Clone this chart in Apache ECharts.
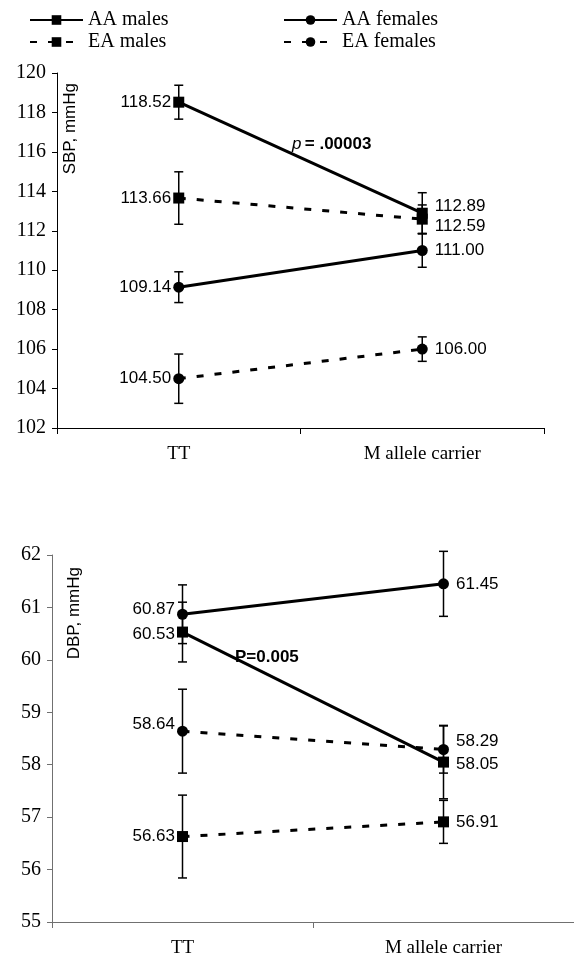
<!DOCTYPE html>
<html>
<head>
<meta charset="utf-8">
<script src="https://cdn.jsdelivr.net/npm/echarts@6/dist/echarts.min.js"></script>
<style>
html,body{margin:0;padding:0;background:#fff;}
#chart{width:574px;height:962px;}
</style>
</head>
<body>
<div id="chart"></div>
<script>
// ---- data ----
var categories = ['TT', 'M allele carrier'];
var seriesNames = ['AA males', 'AA females', 'EA males', 'EA females'];

// SBP (top panel)
var sbpAAMales = [118.52, 112.89];
var sbpAAMalesErr = [0.86, 1.04];
var sbpAAFemales = [109.14, 111.00];
var sbpAAFemalesErr = [0.78, 0.85];
var sbpEAMales = [113.66, 112.59];
var sbpEAMalesErr = [1.33, 0.72];
var sbpEAFemales = [104.50, 106.00];
var sbpEAFemalesErr = [1.25, 0.62];
var sbpTicks = {min: 102, max: 120, interval: 2};

// DBP (bottom panel)
var dbpAAMales = [60.53, 58.05];
var dbpAAMalesErr = [0.57, 0.70];
var dbpAAFemales = [60.87, 61.45];
var dbpAAFemalesErr = [0.56, 0.62];
var dbpEAMales = [56.63, 56.91];
var dbpEAMalesErr = [0.79, 0.41];
var dbpEAFemales = [58.64, 58.29];
var dbpEAFemalesErr = [0.80, 0.45];
var dbpTicks = {min: 55, max: 62, interval: 1};

var sbpPText = '.00003';
var dbpPText = 'P=0.005';

// ---- styling helpers ----
var SERIF = '"Liberation Serif","Times New Roman",serif';
var SANS = '"Liberation Sans",Arial,sans-serif';

function errData(vals, errs) {
  return vals.map(function (v, i) { return [i, v - errs[i], v + errs[i]]; });
}

function errSeries(xi, data) {
  return {
    type: 'custom', xAxisIndex: xi, yAxisIndex: xi, z: 1, silent: true,
    data: data,
    renderItem: function (params, api) {
      var x = api.value(0);
      var lo = api.coord([x, api.value(1)]);
      var hi = api.coord([x, api.value(2)]);
      var hw = 4.5;
      var st = {stroke: '#000', lineWidth: 1.5};
      return {
        type: 'group',
        children: [
          {type: 'line', shape: {x1: lo[0], y1: lo[1], x2: hi[0], y2: hi[1]}, style: st},
          {type: 'line', shape: {x1: lo[0] - hw, y1: lo[1], x2: lo[0] + hw, y2: lo[1]}, style: st},
          {type: 'line', shape: {x1: hi[0] - hw, y1: hi[1], x2: hi[0] + hw, y2: hi[1]}, style: st}
        ]
      };
    }
  };
}

function lineSeries(name, xi, vals, dashed, symbol, offsets) {
  return {
    name: name, type: 'line', xAxisIndex: xi, yAxisIndex: xi, z: 3,
    data: vals.map(function (v, i) {
      return {
        value: v,
        label: {
          position: i === 0 ? 'left' : 'right',
          distance: i === 0 ? 2 : 7,
          offset: offsets ? offsets[i] : [0, 0]
        }
      };
    }),
    symbol: symbol, symbolSize: 11,
    itemStyle: {color: '#000'},
    lineStyle: {color: '#000', width: 3, type: dashed ? [7, 11] : 'solid'},
    label: {
      show: true, color: '#000', fontFamily: SANS, fontSize: 17,
      formatter: function (p) { return p.value.toFixed(2); }
    },
    emphasis: {disabled: true},
    animation: false
  };
}

function yAxis(gi, ticks, col) {
  return {
    type: 'value', gridIndex: gi, min: ticks.min, max: ticks.max, interval: ticks.interval,
    splitLine: {show: false},
    axisLine: {show: true, lineStyle: {color: col, width: 1}},
    axisTick: {show: true, inside: false, length: 5, lineStyle: {color: col}},
    axisLabel: {color: '#000', fontFamily: SERIF, fontSize: 20, margin: 11}
  };
}

function xAxis(gi, col) {
  return {
    type: 'category', gridIndex: gi, data: categories, boundaryGap: true,
    axisLine: {show: true, onZero: false, lineStyle: {color: col, width: 1}},
    axisTick: {show: true, length: 6, lineStyle: {color: col}},
    axisLabel: {color: '#000', fontFamily: SERIF, fontSize: 19, margin: 17}
  };
}

function legendItem(name, left, top) {
  return {
    data: [name], left: left, top: top, padding: 0,
    itemWidth: 53, itemHeight: 12,
    selectedMode: false,
    textStyle: {color: '#000', fontFamily: SERIF, fontSize: 20}
  };
}

var option = {
  backgroundColor: '#fff',
  animation: false,
  legend: [
    legendItem('AA males', 29, 10),
    legendItem('AA females', 283, 10),
    legendItem('EA males', 29, 32),
    legendItem('EA females', 283, 32)
  ],
  grid: [
    {left: 57, right: 30, top: 73, height: 355},
    {left: 52, right: -3, top: 555, height: 367}
  ],
  xAxis: [xAxis(0, '#000'), xAxis(1, '#707070')],
  yAxis: [yAxis(0, sbpTicks, '#000'), yAxis(1, dbpTicks, '#707070')],
  series: [
    errSeries(0, errData(sbpAAMales, sbpAAMalesErr)),
    errSeries(0, errData(sbpAAFemales, sbpAAFemalesErr)),
    errSeries(0, errData(sbpEAMales, sbpEAMalesErr)),
    errSeries(0, errData(sbpEAFemales, sbpEAFemalesErr)),
    lineSeries('AA males', 0, sbpAAMales, false, 'rect', [[0, 0], [0, -7]]),
    lineSeries('AA females', 0, sbpAAFemales, false, 'circle'),
    lineSeries('EA males', 0, sbpEAMales, true, 'rect', [[0, 0], [0, 7]]),
    lineSeries('EA females', 0, sbpEAFemales, true, 'circle'),

    errSeries(1, errData(dbpAAMales, dbpAAMalesErr)),
    errSeries(1, errData(dbpAAFemales, dbpAAFemalesErr)),
    errSeries(1, errData(dbpEAMales, dbpEAMalesErr)),
    errSeries(1, errData(dbpEAFemales, dbpEAFemalesErr)),
    lineSeries('AA males', 1, dbpAAMales, false, 'rect', [[0, 2], [0, 2]]),
    lineSeries('AA females', 1, dbpAAFemales, false, 'circle', [[0, -5], [0, 0]]),
    lineSeries('EA males', 1, dbpEAMales, true, 'rect'),
    lineSeries('EA females', 1, dbpEAFemales, true, 'circle', [[0, -7], [0, -8]])
  ],
  graphic: [
    {type: 'text', left: 62, top: 83, rotation: Math.PI / 2,
     style: {text: 'SBP, mmHg', fontFamily: SANS, fontSize: 17, fill: '#000'}},
    {type: 'text', left: 66, top: 567, rotation: Math.PI / 2,
     style: {text: 'DBP, mmHg', fontFamily: SANS, fontSize: 17, fill: '#000'}},
    {type: 'text', left: 292, top: 136,
     style: {text: '{i|p} {b|= ' + sbpPText + '}', fill: '#000',
       rich: {i: {fontFamily: SANS, fontSize: 17, fontStyle: 'italic'},
              b: {fontFamily: SANS, fontSize: 17, fontWeight: 'bold'}}}},
    {type: 'text', left: 235, top: 649,
     style: {text: dbpPText, fontFamily: SANS, fontSize: 17, fontWeight: 'bold', fill: '#000'}}
  ]
};

var chart = echarts.init(document.getElementById('chart'), null, {renderer: 'canvas'});
chart.setOption(option);
</script>
</body>
</html>
